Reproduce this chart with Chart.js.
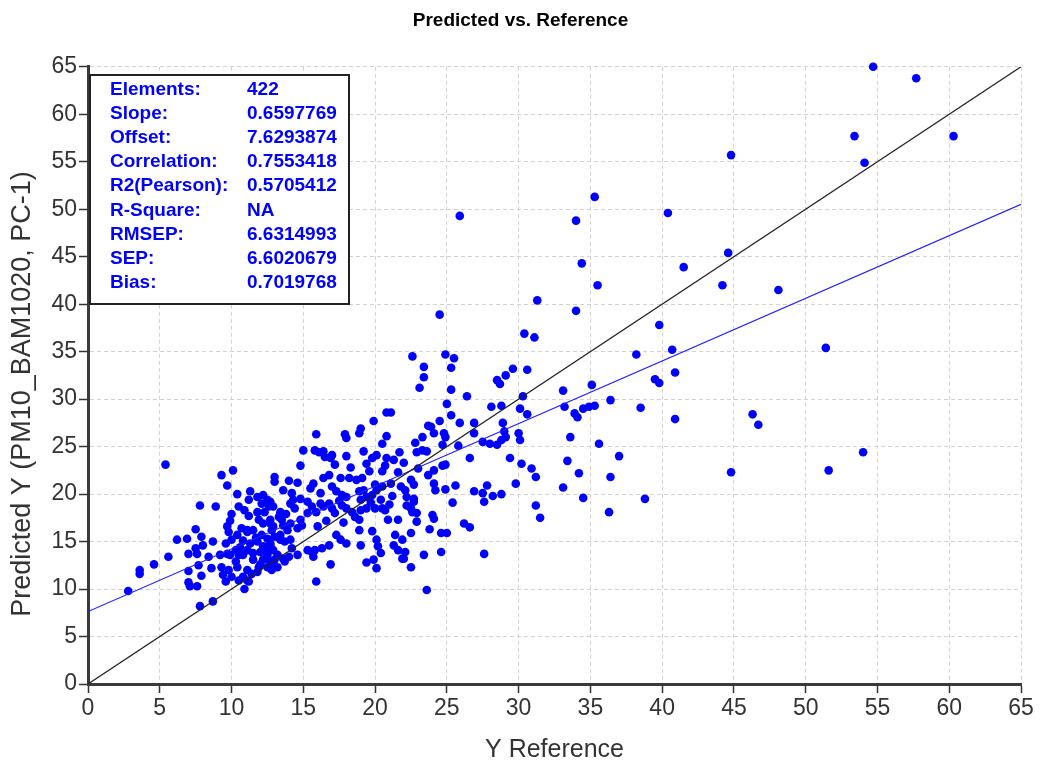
<!DOCTYPE html>
<html>
<head>
<meta charset="utf-8">
<script src="https://cdn.jsdelivr.net/npm/chart.js@4.4.0/dist/chart.umd.min.js"></script>
<style>
  html, body { margin: 0; padding: 0; background: #fff; }
</style>
</head>
<body>
<canvas id="chart" width="1041" height="763"></canvas>
<script>
// Data ----------------------------------------

// Y Reference (x) and Predicted Y (y), one pair per point
const refX = [
    // upper right, sparse
    54.7, 57.7, 53.4, 60.3, 54.1, 44.8, 35.3, 40.4, 44.6, 41.5,
    35.5, 44.2, 48.1, 39.8, 38.2, 40.7, 51.4, 40.9, 35.1, 39.5,
    39.8, 36.4, 35.3, 38.5, 40.9, 46.3, 46.7, 35.6, 37.0, 54.0,
    36.4, 44.8, 51.6, 34.0, 34.4, 25.9, 38.8, 36.3,
    // 24..35, above 25
    31.3, 24.5, 34.0, 30.4, 31.1, 24.9, 25.5, 25.3, 29.6, 30.6,
    29.1, 28.5, 28.7, 25.3, 26.4, 30.3, 33.1, 25.0, 28.1, 28.8,
    30.1, 30.6, 33.2, 33.9, 34.1, 34.5, 34.9, 25.3, 24.5, 25.9,
    26.9, 28.9, 23.9, 24.1, 24.8, 24.9, 26.9, 29.0, 29.1, 28.8,
    30.0, 30.1, 33.6, 27.5, 28.0, 24.7, 25.8, 28.5,
    // 24..35, below 25
    26.6, 29.4, 30.2, 30.9, 31.2, 33.4, 34.2, 33.1, 34.5, 29.8,
    24.7, 24.9, 25.6, 26.9, 27.5, 27.8, 28.2, 28.8, 27.6, 25.4,
    31.2, 31.5, 26.2, 26.6, 24.6, 25.0, 24.6, 27.6, 24.9,
    // 15..24, above 25
    22.6, 23.4, 23.4, 23.1, 20.8, 21.1, 19.9, 23.7, 15.9, 17.9,
    18.0, 18.9, 19.0, 20.8, 20.5, 23.3, 22.8,
    // 13..24, 20..25
    15.0, 15.8, 16.1, 16.4, 16.5, 16.9, 17.0, 18.0, 19.2, 19.8,
    19.4, 20.1, 20.8, 20.7, 20.5, 21.7, 22.9, 23.3, 23.6, 14.8,
    13.0, 13.0, 14.0, 13.6, 15.7, 15.5, 16.2, 16.4, 16.8, 17.6,
    18.2, 18.7, 19.1, 17.0, 17.3, 17.7, 18.0, 18.9, 19.2, 19.4,
    19.0, 19.8, 20.1, 20.5, 21.1, 21.6, 21.8, 22.1, 22.5, 22.7,
    24.1, 23.7, 24.1, 24.2,
    // 13..24, 16..20
    12.7, 12.9, 13.4, 13.5, 14.1, 14.4, 14.3, 14.8, 15.3, 15.6,
    15.3, 15.9, 16.2, 16.4, 16.8, 17.0, 17.2, 17.7, 18.0, 18.4,
    18.6, 19.0, 19.4, 20.0, 20.5, 20.7, 18.9, 18.9, 19.8, 20.9,
    21.6, 22.2, 22.5, 22.6, 22.9, 22.7, 22.2, 22.7, 22.9, 24.0,
    24.1, 23.8, 22.5,
    // 13..24, below 16
    21.4, 21.9, 21.3, 21.6, 22.1, 21.9, 20.1, 20.2, 20.4, 19.0,
    18.0, 17.3, 17.6, 16.8, 16.3, 15.8, 15.7, 15.3, 15.6, 14.9,
    14.6, 14.8, 14.1, 13.6, 13.9, 13.4, 13.0, 13.4, 13.7, 14.1,
    12.7, 12.8, 12.7, 12.9, 13.2, 13.6, 14.0, 13.7, 12.9, 12.7,
    16.9, 15.9, 19.4, 19.9, 20.1, 22.0, 22.5, 23.4, 23.6,
    // below 12
    5.4, 9.3, 10.1, 9.7, 10.4, 11.3, 7.8, 8.9, 11.2, 10.5,
    10.0, 9.9, 9.7, 9.8, 7.5, 6.9, 6.2, 7.9, 8.7, 8.0,
    7.5, 7.0, 7.6, 8.4, 9.2, 9.7, 5.6, 4.6, 3.6, 3.6,
    2.8, 7.7, 8.6, 7.0, 7.9, 7.0, 7.1, 7.6, 9.4, 9.6,
    10.0, 10.4, 10.8, 10.6, 10.8, 11.1, 10.9, 11.1, 7.8, 8.7,
    // 9..13 cluster
    11.8, 12.2, 12.5, 12.1, 12.6, 11.8, 12.3, 11.9, 12.2, 12.7,
    10.7, 11.1, 11.5, 12.1, 12.5, 11.3, 11.8, 12.2, 12.7, 11.1,
    11.5, 12.0, 12.5, 11.5, 12.2, 11.1, 11.4, 11.8, 11.9, 12.5,
    10.8, 11.2, 9.3, 9.8, 10.3, 10.4, 10.0, 9.6, 10.3, 9.9,
    10.5, 10.5,
    // overlapping dots inside the dense blobs
    12.0, 12.8, 13.2, 12.4, 13.0, 11.7, 12.9, 13.3, 11.2, 10.9,
    13.8, 14.2, 14.6, 16.0, 16.6, 17.8, 17.5, 19.7, 20.4, 21.2,
    21.0, 20.0, 19.6, 18.3, 17.2, 22.0, 23.0, 21.3, 14.6, 14.2
];
const predY = [
    65.0, 63.8, 57.7, 57.7, 54.9, 55.7, 51.3, 49.6, 45.4, 43.9,
    42.0, 42.0, 41.5, 37.8, 34.7, 35.2, 35.4, 32.8, 31.5, 32.1,
    31.7, 29.9, 29.3, 29.1, 27.9, 28.4, 27.3, 25.3, 24.0, 24.4,
    21.8, 22.3, 22.5, 48.8, 44.3, 49.3, 19.5, 18.1,

    40.4, 38.9, 39.3, 36.9, 36.5, 34.7, 34.3, 33.3, 33.2, 33.1,
    32.5, 32.0, 31.6, 31.0, 30.3, 30.3, 30.9, 29.5, 29.2, 29.3,
    29.0, 28.4, 29.2, 28.5, 28.1, 29.0, 29.2, 28.3, 27.7, 27.5,
    27.5, 27.5, 27.1, 26.4, 26.4, 26.0, 26.4, 26.6, 26.0, 25.7,
    26.4, 25.7, 26.0, 25.5, 25.3, 25.2, 25.1, 25.2,

    23.8, 23.8, 23.2, 22.7, 21.8, 23.5, 22.2, 20.7, 19.6, 21.1,
    23.0, 23.1, 20.9, 20.3, 20.1, 20.9, 19.8, 20.0, 19.2, 19.1,
    18.8, 17.5, 16.9, 16.5, 15.9, 15.9, 13.9, 13.7, 20.5,

    34.5, 33.4, 32.3, 31.2, 28.6, 28.6, 27.7, 27.2, 26.3, 26.3,
    25.9, 26.4, 26.9, 26.1, 25.3, 26.0, 25.4,

    24.6, 24.6, 24.4, 24.5, 23.9, 23.8, 24.1, 24.0, 24.5, 23.8,
    23.2, 24.1, 23.8, 23.0, 22.4, 24.4, 24.4, 24.6, 24.5, 23.0,
    21.8, 21.3, 21.4, 20.4, 21.1, 20.6, 20.1, 21.7, 22.0, 21.7,
    21.7, 21.5, 21.7, 20.8, 20.3, 19.9, 19.7, 20.3, 20.4, 19.7,
    19.4, 19.9, 20.4, 20.8, 21.1, 22.3, 20.8, 20.4, 21.5, 21.0,
    22.5, 22.0, 21.1, 20.4,

    19.2, 18.7, 18.1, 17.3, 19.0, 18.5, 19.4, 19.5, 19.2, 18.7,
    18.0, 18.1, 19.0, 18.7, 19.0, 18.5, 18.0, 18.8, 18.5, 18.1,
    17.6, 18.3, 18.5, 18.5, 18.5, 18.3, 17.3, 16.2, 16.1, 17.3,
    17.3, 18.8, 18.5, 18.1, 18.0, 19.2, 19.7, 19.5, 17.1, 17.8,
    17.4, 16.3, 15.9,

    15.7, 15.2, 14.6, 14.1, 13.9, 13.2, 15.2, 14.5, 13.8, 14.6,
    14.8, 15.7, 15.2, 14.6, 14.3, 14.1, 13.4, 14.1, 13.9, 16.7,
    16.4, 17.3, 16.9, 16.7, 16.2, 15.7, 15.5, 15.2, 15.0, 15.2,
    16.9, 16.2, 14.8, 14.1, 13.6, 13.2, 13.4, 12.9, 12.5, 12.9,
    12.6, 10.8, 12.8, 13.1, 12.2, 13.2, 12.3, 13.6, 9.9,

    23.1, 22.0, 22.5, 20.9, 20.0, 20.3, 18.8, 18.7, 19.4, 18.7,
    17.9, 17.2, 16.6, 16.0, 16.3, 15.3, 15.2, 15.5, 15.0, 14.6,
    14.3, 13.7, 13.7, 13.4, 13.6, 13.7, 13.4, 12.6, 12.0, 11.6,
    9.8, 12.5, 12.2, 11.9, 11.4, 10.7, 10.3, 10.3, 11.5, 10.8,
    11.3, 12.3, 13.6, 14.4, 15.1, 16.2, 10.0, 10.9, 8.2, 8.7,

    19.7, 19.9, 19.4, 19.0, 18.7, 18.1, 18.1, 17.3, 16.9, 17.3,
    16.4, 16.0, 16.2, 15.7, 15.3, 14.8, 15.0, 14.5, 14.6, 14.1,
    13.8, 13.9, 13.6, 13.1, 13.1, 12.0, 11.6, 11.8, 12.3, 12.3,
    11.3, 10.8, 12.3, 12.0, 12.9, 15.7, 15.2, 14.8, 14.1, 13.6,
    13.6, 10.9,

    12.6, 12.0, 12.3, 14.0, 13.1, 15.4, 16.6, 17.6, 17.7, 18.3,
    17.9, 14.3, 13.6, 16.6, 17.2, 17.0, 19.3, 19.1, 19.4, 19.8,
    18.9, 21.0, 22.4, 22.8, 23.1, 23.3, 22.7, 23.6, 21.2, 20.1
];

// target line (y = x) and regression line end points
const targetX = [0, 65];
const targetY = [0, 65];
const fitX = [0, 65];
const fitY = [7.63, 50.52];

// statistics box
const statLabels = ['Elements:', 'Slope:', 'Offset:', 'Correlation:', 'R2(Pearson):',
                    'R-Square:', 'RMSEP:', 'SEP:', 'Bias:'];
const statValues = ['422', '0.6597769', '7.6293874', '0.7553418', '0.5705412',
                    'NA', '6.6314993', '6.6020679', '0.7019768'];

const axisTicks = [0, 5, 10, 15, 20, 25, 30, 35, 40, 45, 50, 55, 60, 65];

// Helpers --------------------

function toPoints(xs, ys) {
    return xs.map((x, i) => ({x: x, y: ys[i]}));
}

const FONT = '"Liberation Sans", Arial, sans-serif';

// stats box + rotated y title (the title sits lower than the axis centre)
const overlayPlugin = {
    id: 'overlay',
    afterDraw(chart) {
        const ctx = chart.ctx;
        ctx.save();
        // box
        ctx.fillStyle = '#fff';
        ctx.fillRect(90, 75, 259, 229);
        ctx.strokeStyle = '#222';
        ctx.lineWidth = 2;
        ctx.strokeRect(90, 75, 259, 229);
        // texts
        ctx.fillStyle = '#0000ff';
        ctx.font = 'bold 19px ' + FONT;
        ctx.textBaseline = 'middle';
        ctx.textAlign = 'left';
        statLabels.forEach(function(label, i) {
            let y = 89.5 + i * 24.17;
            ctx.fillText(label, 110, y);
            ctx.fillText(statValues[i], 247, y);
        });
        // y axis title
        ctx.translate(23, 394);
        ctx.rotate(-Math.PI / 2);
        ctx.fillStyle = '#333';
        ctx.font = '27px ' + FONT;
        ctx.textAlign = 'center';
        ctx.fillText('Predicted Y (PM10_BAM1020, PC-1)', 0, 0);
        ctx.restore();
    }
};

function axisOptions(extra) {
    return Object.assign({
        type: 'linear',
        min: 0,
        max: 65,
        afterBuildTicks: function(scale) {
            scale.ticks = axisTicks.map(v => ({value: v}));
        },
        ticks: {
            color: '#333',
            font: {family: FONT, size: 23},
            padding: 2,
            maxRotation: 0
        },
        grid: {
            color: '#d2d2d2',
            lineWidth: 1,
            tickLength: 9,
            tickColor: '#333',
            tickWidth: 1.5,
            tickBorderDash: []
        },
        border: {
            display: true,
            color: '#3a3a3a',
            width: 3,
            dash: [4, 3]
        }
    }, extra);
}

new Chart(document.getElementById('chart').getContext('2d'), {
    type: 'scatter',
    data: {
        datasets: [{
            label: 'Target',
            data: toPoints(targetX, targetY),
            showLine: true,
            borderColor: '#222',
            borderWidth: 1.3,
            pointRadius: 0,
            order: 0
        }, {
            label: 'Fit',
            data: toPoints(fitX, fitY),
            showLine: true,
            borderColor: '#2020ff',
            borderWidth: 1.2,
            pointRadius: 0,
            order: 1
        }, {
            label: 'Samples',
            data: toPoints(refX, predY),
            backgroundColor: '#0000ff',
            borderWidth: 0,
            pointRadius: 4.3,
            clip: false,
            order: 2
        }]
    },
    options: {
        responsive: false,
        animation: false,
        devicePixelRatio: 1,
        // equal side padding keeps the title centred on the canvas
        layout: {padding: {left: 20, right: 20, top: 0, bottom: 0}},
        plugins: {
            legend: {display: false},
            tooltip: {enabled: false},
            title: {
                display: true,
                text: 'Predicted vs. Reference',
                color: '#000',
                font: {family: FONT, size: 19, weight: 'bold'},
                padding: {top: 9, bottom: 35}
            }
        },
        scales: {
            x: axisOptions({
                position: 'bottom',
                afterFit: function(scale) { scale.height = 79; },
                title: {
                    display: true,
                    text: 'Y Reference',
                    color: '#333',
                    font: {family: FONT, size: 25, lineHeight: 1.0},
                    padding: {top: 0, bottom: 0}
                }
            }),
            y: axisOptions({
                position: 'left',
                afterFit: function(scale) { scale.width = 68; }
            })
        }
    },
    plugins: [overlayPlugin]
});
</script>
</body>
</html>
